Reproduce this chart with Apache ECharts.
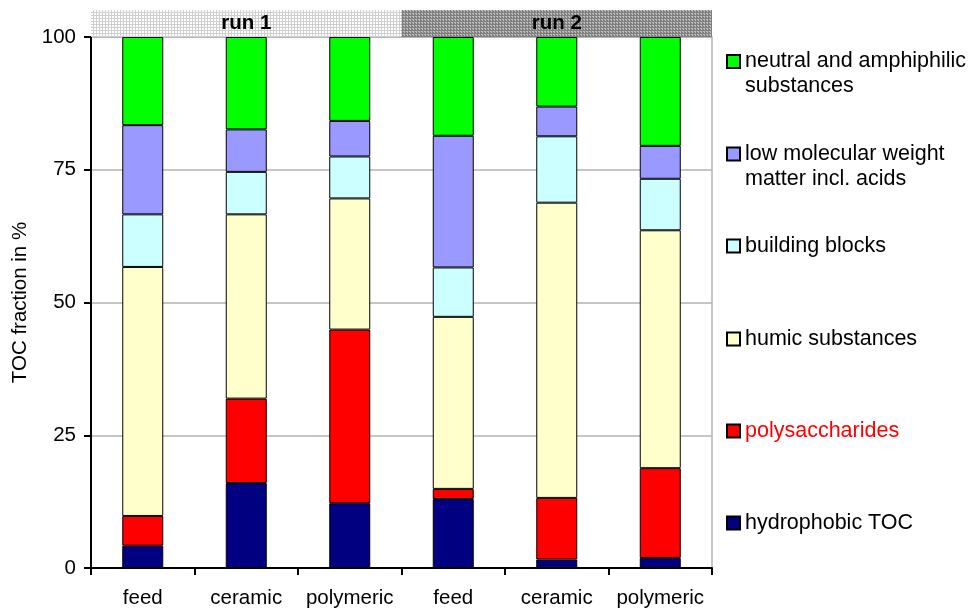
<!DOCTYPE html>
<html>
<head>
<meta charset="utf-8">
<script src="https://cdn.jsdelivr.net/npm/echarts@6/dist/echarts.min.js"></script>
<style>html,body{margin:0;padding:0;background:#fff}#c{width:979px;height:610px}</style>
</head>
<body>
<div id="c"></div>
<script>
const categories = ['feed', 'ceramic', 'polymeric', 'feed', 'ceramic', 'polymeric'];
const runs = ['run 1', 'run 2'];
const yTicks = [0, 25, 50, 75, 100];
const hydrophobic = [4.2, 16.0, 12.2, 13.0, 1.6, 1.9];
const polysaccharides = [5.6, 15.9, 32.7, 1.9, 11.6, 16.9];
const humic = [46.9, 34.7, 24.7, 32.4, 55.6, 44.8];
const building = [9.9, 8.0, 7.9, 9.3, 12.5, 9.7];
const lmw = [16.8, 8.0, 6.7, 24.8, 5.6, 6.2];
const neutral = [16.6, 17.4, 15.8, 18.6, 13.1, 20.5];
const runBand = [1, 1];

const FONT = 'Liberation Sans, Arial, sans-serif';
const FS = 20.5;
const LFS = 21.5;

function makePattern(bg, fg, dark) {
  const c = document.createElement('canvas');
  c.width = 3; c.height = 3;
  const g = c.getContext('2d');
  g.fillStyle = bg; g.fillRect(0, 0, 3, 3);
  g.fillStyle = fg;
  g.fillRect(0, 0, 3, 1);
  g.fillRect(0, 0, 1, 3);
  if (dark) { g.fillRect(1, 2, 1, 1); }
  return { image: c, repeat: 'repeat' };
}

const seriesDefs = [
  { name: 'hydrophobic TOC', data: hydrophobic, color: '#000080' },
  { name: 'polysaccharides', data: polysaccharides, color: '#ff0000' },
  { name: 'humic substances', data: humic, color: '#ffffcc' },
  { name: 'building blocks', data: building, color: '#ccffff' },
  { name: 'low molecular weight\nmatter incl. acids', data: lmw, color: '#9999ff' },
  { name: 'neutral and amphiphilic\nsubstances', data: neutral, color: '#00ff00' }
];

const legendCenters = {
  'neutral and amphiphilic\nsubstances': 61.5,
  'low molecular weight\nmatter incl. acids': 154,
  'building blocks': 246,
  'humic substances': 339,
  'polysaccharides': 431,
  'hydrophobic TOC': 523
};

const legends = seriesDefs.map(s => {
  const two = s.name.indexOf('\n') >= 0;
  const c = legendCenters[s.name];
  return {
    data: [{ name: s.name, textStyle: s.name === 'polysaccharides' ? { color: '#ff0000' } : {} }],
    left: 726,
    top: two ? c - 37.5 : c - 12.5,
    padding: 0,
    itemWidth: 13,
    itemHeight: 13,
    itemGap: 0,
    icon: 'rect',
    selectedMode: false,
    formatter: name => (two ? '\n' : '') + name,
    textStyle: {
      fontFamily: FONT, fontSize: LFS, color: '#000', lineHeight: 25
    }
  };
});

const series = seriesDefs.map(s => ({
  name: s.name,
  type: 'bar',
  stack: 'total',
  data: s.data,
  barWidth: 41,
  itemStyle: { color: s.color, borderColor: '#000', borderWidth: 1 },
  emphasis: { disabled: true },
  xAxisIndex: 0, yAxisIndex: 0
}));

series.push({
  type: 'bar',
  data: runBand.map((v, i) => ({
    value: v,
    itemStyle: { color: i === 0 ? makePattern('#ffffff', '#cfcfcf', false) : makePattern('#bdbdbd', '#7f7f7f', true) }
  })),
  barWidth: '100%',
  xAxisIndex: 1, yAxisIndex: 1,
  silent: true,
  label: {
    show: true, position: 'inside',
    formatter: p => runs[p.dataIndex],
    fontFamily: FONT, fontSize: FS, fontWeight: 'bold', color: '#000'
  }
});

const chart = echarts.init(document.getElementById('c'), null, { renderer: 'canvas' });
chart.setOption({
  animation: false,
  backgroundColor: '#fff',
  legend: legends,
  grid: [
    { left: 91, right: 267, top: 37, bottom: 42, show: true, borderColor: '#b3b3b3', borderWidth: 1.5, containLabel: false },
    { left: 91, right: 267, top: 10, height: 27, containLabel: false }
  ],
  xAxis: [
    {
      type: 'category', data: categories, gridIndex: 0,
      axisLine: { show: true, lineStyle: { color: '#000', width: 2 } },
      axisTick: { show: true, interval: 0, length: 7, lineStyle: { color: '#000', width: 2 } },
      axisLabel: { interval: 0, fontFamily: FONT, fontSize: FS, color: '#000', margin: 20 },
      splitLine: { show: false }
    },
    {
      type: 'category', data: runs, gridIndex: 1, show: false
    }
  ],
  yAxis: [
    {
      type: 'value', min: 0, max: 100, interval: 25, gridIndex: 0,
      name: 'TOC fraction in %', nameLocation: 'middle', nameGap: 60,
      nameTextStyle: { fontFamily: FONT, fontSize: FS, color: '#000' },
      axisLine: { show: true, lineStyle: { color: '#000', width: 2 } },
      axisTick: { show: true, length: 7, lineStyle: { color: '#000', width: 2 } },
      axisLabel: { fontFamily: FONT, fontSize: FS, color: '#000', margin: 15,
        formatter: v => yTicks.indexOf(v) >= 0 ? String(v) : '' },
      splitLine: { show: true, lineStyle: { color: '#b3b3b3', width: 1.5 } }
    },
    { type: 'value', min: 0, max: 1, gridIndex: 1, show: false }
  ],
  series: series
});
</script>
</body>
</html>
